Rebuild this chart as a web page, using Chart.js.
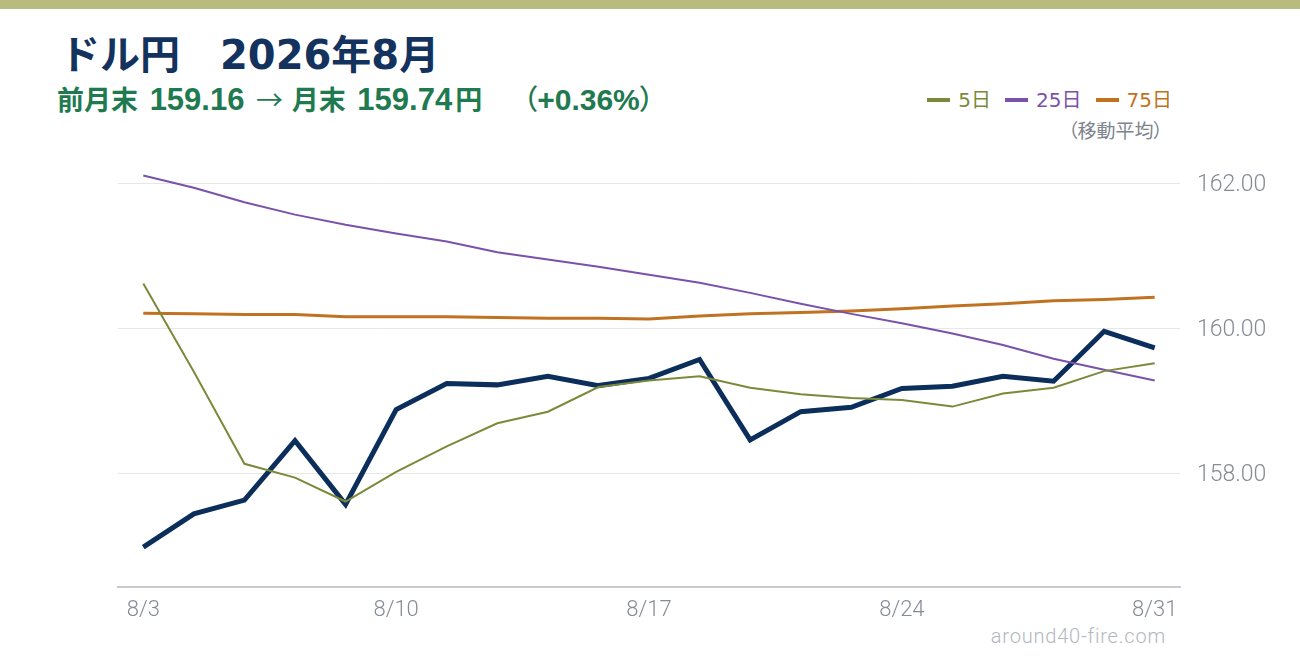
<!DOCTYPE html>
<html lang="ja">
<head>
<meta charset="utf-8">
<script src="https://cdn.jsdelivr.net/npm/chart.js@4"></script>
<style>
  html, body { margin: 0; padding: 0; background: #fff; }
  body { width: 1300px; height: 660px; position: relative; overflow: hidden; font-family: "DejaVu Sans", "Noto Sans CJK JP", sans-serif; }
  #band { position: absolute; left: 0; top: 0; width: 1300px; height: 9px; background: #b8bb7e; }
  #title { position: absolute; left: 60px; top: 31px; font-size: 40px; font-weight: 700; color: #13325e; white-space: pre; line-height: 1.2; }
  #sub { position: absolute; left: 57px; top: 82px; font-family: "Liberation Sans", "Noto Sans CJK JP", sans-serif; font-size: 31px; font-weight: 700; color: #1f7a50; white-space: pre; line-height: 36px; }
  #sub span { line-height: 1; }
  #sub .j { font-family: "Noto Sans CJK JP", sans-serif; font-size: 27px; }
  #sub .ar { font-family: "Noto Sans CJK JP", sans-serif; font-size: 27px; font-weight: 400; margin-left: 3px; }
  #sub .n1 { margin-left: 3px; }
  #sub .n2 { margin-left: 3px; }
  #sub .yen { margin-left: 3px; }
  #sub .pct { margin-left: 41px; font-size: 30px; }
  #sub .p { font-family: "Noto Sans CJK JP", sans-serif; font-size: 28px; font-weight: 500; font-feature-settings: "palt"; }
  #legend { position: absolute; right: 128px; top: 88px; display: flex; gap: 14px; font-size: 20px; line-height: 1.2; }
  #legend .item { display: flex; align-items: center; }
  #legend .sw { display: inline-block; width: 23px; height: 4px; margin-right: 8px; }
  #legendNote { position: absolute; right: 137px; top: 119px; font-size: 19px; color: #7d848d; line-height: 1.2; font-family: "Noto Sans CJK JP", sans-serif; font-feature-settings: "palt"; }
  #wm { position: absolute; right: 134px; top: 624px; font-size: 20px; font-weight: 300; letter-spacing: 0.8px; color: #b3b7bd; line-height: 1.2; font-family: Roboto, sans-serif; }
  #wrap { position: absolute; left: 0; top: 0; width: 1300px; height: 660px; }
</style>
</head>
<body>
<div id="band"></div>
<div id="title">ドル円　2026年8月</div>
<div id="sub"><span class="j">前月末</span> <span class="n1">159.16</span> <span class="ar">→</span> <span class="j">月末</span> <span class="n2">159.74</span><span class="j yen">円</span><span class="pct"><span class="p">（</span>+0.36%<span class="p">）</span></span></div>
<div id="legend"></div>
<div id="legendNote">（移動平均）</div>
<div id="wm">around40-fire.com</div>
<div id="wrap"><canvas id="c" width="1300" height="660"></canvas></div>
<script>
// Categories (business days, August 2026)
const dates = ['8/3','8/4','8/5','8/6','8/7','8/10','8/11','8/12','8/13','8/14','8/17','8/18','8/19','8/20','8/21','8/24','8/25','8/26','8/27','8/28','8/31'];
// Visible x tick labels
const xTickLabels = ['8/3','8/10','8/17','8/24','8/31'];
// Visible y ticks
const yTicks = [158, 160, 162];

// USD/JPY close
const close = [156.98,157.44,157.63,158.45,157.57,158.88,159.24,159.22,159.34,159.21,159.31,159.57,158.46,158.85,158.91,159.17,159.20,159.34,159.27,159.96,159.73];
// 5-day moving average
const ma5 = [160.62,159.40,158.13,157.94,157.61,158.02,158.37,158.69,158.85,159.19,159.28,159.34,159.18,159.09,159.04,159.01,158.92,159.10,159.18,159.41,159.52];
// 25-day moving average
const ma25 = [162.11,161.94,161.74,161.57,161.43,161.31,161.20,161.05,160.95,160.85,160.74,160.63,160.49,160.34,160.20,160.07,159.93,159.77,159.58,159.43,159.28];
// 75-day moving average
const ma75 = [160.21,160.20,160.19,160.19,160.16,160.16,160.16,160.15,160.14,160.14,160.13,160.17,160.20,160.22,160.24,160.27,160.31,160.34,160.38,160.40,160.43];

const maNames = ['5日','25日','75日'];
const maColors = ['#7b8a3a','#7a52aa','#c07221'];
const closeColor = '#0c2e5b';

// HTML legend from series names/colours
const lg = document.getElementById('legend');
maNames.forEach((n, i) => {
  const it = document.createElement('span');
  it.className = 'item';
  it.style.color = maColors[i];
  const sw = document.createElement('span');
  sw.className = 'sw';
  sw.style.background = maColors[i];
  it.appendChild(sw);
  it.appendChild(document.createTextNode(n));
  lg.appendChild(it);
});

const tickFont = { family: 'Roboto, "Noto Sans", sans-serif', size: 22, weight: 300 };

new Chart(document.getElementById('c'), {
  type: 'line',
  data: {
    labels: dates,
    datasets: [
      { label: 'ドル円', data: close, borderColor: closeColor, borderWidth: 5, pointRadius: 0, tension: 0, order: 4, borderJoinStyle: 'miter' },
      { label: maNames[2], data: ma75, borderColor: maColors[2], borderWidth: 3, pointRadius: 0, tension: 0, order: 3 },
      { label: maNames[1], data: ma25, borderColor: maColors[1], borderWidth: 2, pointRadius: 0, tension: 0, order: 2 },
      { label: maNames[0], data: ma5, borderColor: maColors[0], borderWidth: 2, pointRadius: 0, tension: 0, order: 1 }
    ]
  },
  options: {
    responsive: false,
    animation: false,
    devicePixelRatio: 1,
    layout: { padding: { left: 118, top: 140, right: 0, bottom: 23 } },
    plugins: { legend: { display: false }, tooltip: { enabled: false }, title: { display: false } },
    scales: {
      x: {
        type: 'category',
        offset: true,
        grid: { display: false, drawTicks: false },
        border: { display: true, color: '#c6c9cf', width: 2 },
        afterFit: (s) => { s.height = 50; },
        ticks: {
          autoSkip: false,
          maxRotation: 0,
          padding: 10,
          color: '#868c95',
          font: tickFont,
          callback: function (v) { const l = this.getLabelForValue(v); return xTickLabels.includes(l) ? l : null; }
        }
      },
      y: {
        position: 'right',
        min: 156.43,
        max: 162.6,
        grid: { color: '#e7e7e7', lineWidth: 1, drawTicks: false },
        border: { display: false },
        afterFit: (s) => { s.width = 120; },
        afterBuildTicks: (s) => { s.ticks = yTicks.map(v => ({ value: v })); },
        ticks: {
          padding: 17,
          labelOffset: 2,
          color: '#868c95',
          font: { family: tickFont.family, size: 23, weight: 300 },
          callback: (v) => Number(v).toFixed(2)
        }
      }
    }
  }
});
</script>
</body>
</html>
